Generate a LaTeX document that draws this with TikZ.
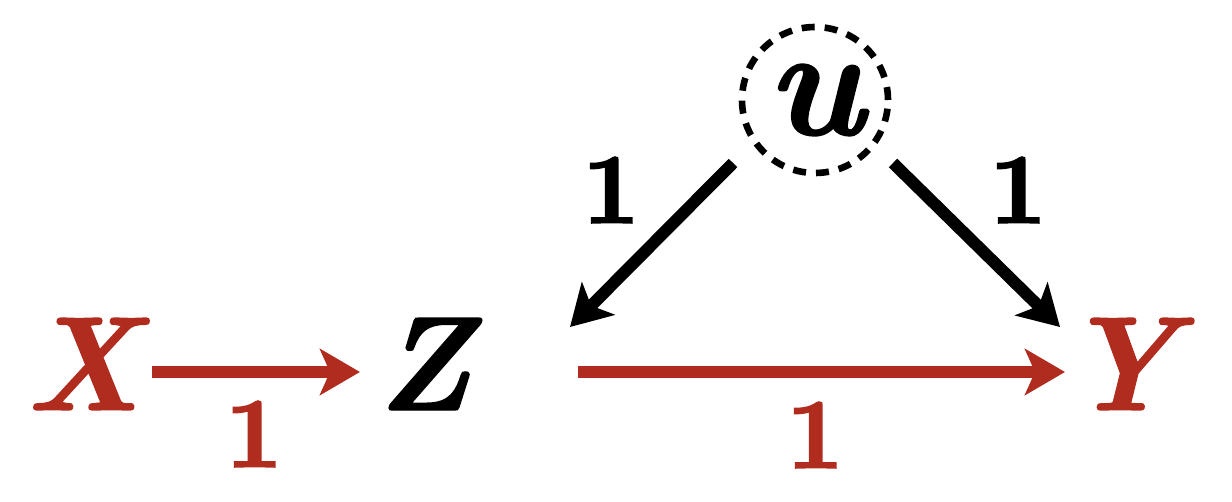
\documentclass[tikz,border=0pt]{standalone}
\usepackage{fontspec}
\newfontface\onebold{lmroman10-bold}[Extension=.otf, FakeBold=2]
\newfontface\letbold{lmroman10-bolditalic}[Extension=.otf, FakeBold=1]
\usetikzlibrary{arrows.meta,calc}
\definecolor{myred}{RGB}{176,44,30}
\tikzset{
  letter/.style={inner sep=0pt, anchor=base, font=\letbold\fontsize{67}{80}\selectfont},
  weight/.style={inner sep=0pt, font=\onebold\fontsize{50}{60}\selectfont},
  conn/.style={line width=6pt, -{Stealth[length=20pt,width=23pt,inset=5pt]}},
  latent/.style={circle, draw, line width=3.3pt, dash pattern=on 6.5pt off 5pt, minimum size=73pt, inner sep=0pt, font=\letbold\fontsize{78}{80}\selectfont}
}
\begin{document}
\begin{tikzpicture}[x=0.5pt,y=-0.5pt]
\useasboundingbox (0,0) rectangle (1232,502);
\node[letter, text=myred] (X) at (83,410) {X};
\node[letter] (Z) at (424,410) {Z};
\node[letter, text=myred] (Y) at (1120,410) {Y};
\node[latent] (u) at (815,100) {u};
\draw[conn, myred] ($(X.base)+(69,-38)$) -- ($(Z.base)+(-64,-38)$);
\draw[conn, myred] ($(Z.base)+(154,-38)$) -- ($(Y.base)+(-55,-38)$);
\draw[conn] ($(u)+(-82,63)$) -- ($(Z.base)+(146,-83)$);
\draw[conn] ($(u)+(78,63)$) -- ($(Y.base)+(-60,-83)$);
\node[weight, text=myred] (w1) at (254,434) {1};
\node[weight, text=myred] (w2) at (815,435) {1};
\node[weight] (w3) at (611,190) {1};
\node[weight] (w4) at (1018,190) {1};
\end{tikzpicture}
\end{document}
